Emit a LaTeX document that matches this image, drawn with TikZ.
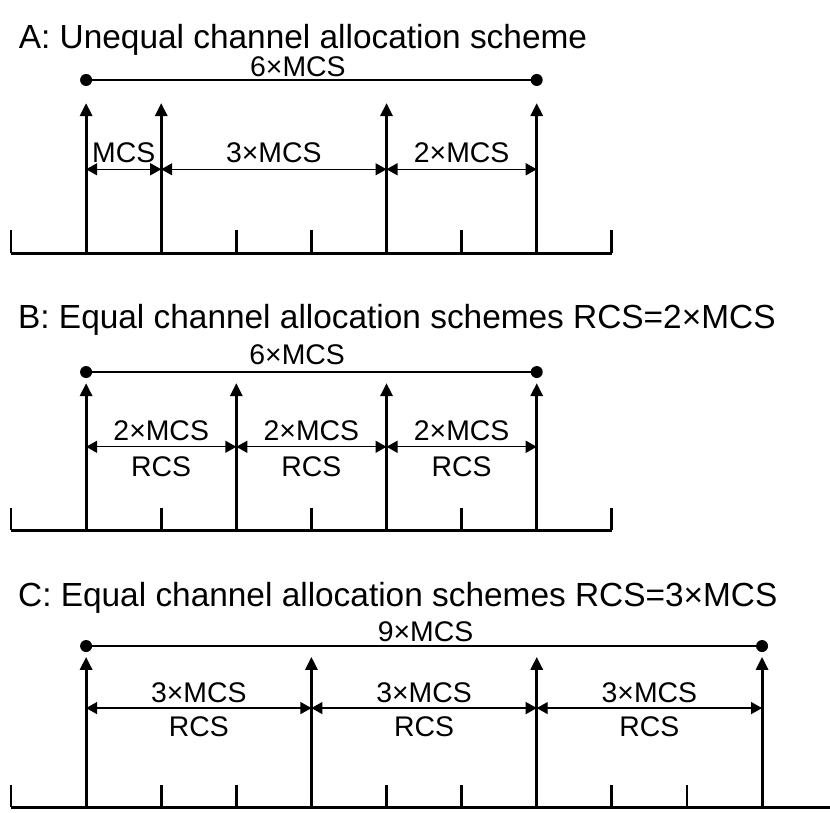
\documentclass[tikz,border=0pt]{standalone}
\usepackage{fontspec}
\setmainfont{Liberation Sans}
\usetikzlibrary{arrows.meta,calc}

\begin{document}
\begin{tikzpicture}[x=37.55pt,y=37.55pt,
  base/.style={line width=1.5pt},
  slot/.style={line width=1.4pt},
  carrier/.style={line width=1.5pt,-{Triangle[length=6.5pt,width=6pt]}},
  dim/.style={line width=0.7pt,{Triangle[length=5.5pt,width=6pt]}-{Triangle[length=5.5pt,width=6pt]}},
  span/.style={line width=0.6pt},
  ttl/.style={anchor=west,inner sep=0pt,font=\fontsize{16.7}{20}\selectfont},
  lbl/.style={inner sep=0pt,font=\fontsize{14.2}{17}\selectfont},
  lblup/.style={lbl,midway,yshift=8.2pt},
  lbldn/.style={lbl,midway,yshift=-9.8pt}]
  \useasboundingbox (-0.1465,-0.0666) rectangle (10.905,10.746);

  % A: unequal allocation
  \begin{scope}[shift={(0,7.377)}]
    \node[ttl] (titleA) at (0.1,2.836) {A: Unequal channel allocation scheme};
    \draw[base] (0,0) -- (8,0);
    \foreach \k in {0,...,8} \draw[slot] (\k,0) -- (\k,0.3);
    \foreach \k [count=\i] in {1,2,5,7} {
      \coordinate (Ab\i) at (\k,0);
      \coordinate (At\i) at (\k,1.997);
      \coordinate (Ad\i) at (\k,1.115);
      \draw[carrier] (Ab\i) -- (At\i);
    }
    \draw[dim] (Ad1) -- node[lblup] {MCS} (Ad2);
    \draw[dim] (Ad2) -- node[lblup] {3×MCS} (Ad3);
    \draw[dim] (Ad3) -- node[lblup] {2×MCS} (Ad4);
    \coordinate (As1) at (1,2.304);
    \coordinate (As2) at (7,2.304);
    \draw[span] (As1) -- (As2);
    \fill (As1) circle (3pt) (As2) circle (3pt);
    \node[lbl] (sumA) at (3.82,2.477) {6×MCS};
  \end{scope}

  % B: equal allocation, RCS = 2 MCS
  \begin{scope}[shift={(0,3.688)}]
    \node[ttl] (titleB) at (0.09,2.796) {B: Equal channel allocation schemes RCS=2×MCS};
    \draw[base] (0,0) -- (8,0);
    \foreach \k in {0,...,8} \draw[slot] (\k,0) -- (\k,0.3);
    \foreach \k [count=\i] in {1,3,5,7} {
      \coordinate (Bb\i) at (\k,0);
      \coordinate (Bt\i) at (\k,1.957);
      \coordinate (Bd\i) at (\k,1.109);
      \draw[carrier] (Bb\i) -- (Bt\i);
    }
    \foreach \i [evaluate=\i as \j using int(\i+1)] in {1,2,3}
      \draw[dim] (Bd\i) -- node[lblup] {2×MCS} node[lbldn] {RCS} (Bd\j);
    \coordinate (Bs1) at (1,2.104);
    \coordinate (Bs2) at (7,2.104);
    \draw[span] (Bs1) -- (Bs2);
    \fill (Bs1) circle (3pt) (Bs2) circle (3pt);
    \node[lbl] (sumB) at (3.81,2.33) {6×MCS};
  \end{scope}

  % C: equal allocation, RCS = 3 MCS
  \begin{scope}
    \node[ttl] (titleC) at (0.09,2.783) {C: Equal channel allocation schemes RCS=3×MCS};
    \draw[base] (0,0) -- (10.905,0);
    \foreach \k in {0,...,10} \draw[slot] (\k,0) -- (\k,0.3);
    \foreach \k [count=\i] in {1,4,7,10} {
      \coordinate (Cb\i) at (\k,0);
      \coordinate (Ct\i) at (\k,2.0);
      \coordinate (Cd\i) at (\k,1.318);
      \draw[carrier] (Cb\i) -- (Ct\i);
    }
    \foreach \i [evaluate=\i as \j using int(\i+1)] in {1,2,3}
      \draw[dim] (Cd\i) -- node[lblup,yshift=-0.4pt] {3×MCS} node[lbldn,yshift=0.4pt] {RCS} (Cd\j);
    \coordinate (Cs1) at (1,2.144);
    \coordinate (Cs2) at (10,2.144);
    \draw[span] (Cs1) -- (Cs2);
    \fill (Cs1) circle (3pt) (Cs2) circle (3pt);
    \node[lbl] (sumC) at (5.52,2.33) {9×MCS};
  \end{scope}
\end{tikzpicture}
\end{document}
